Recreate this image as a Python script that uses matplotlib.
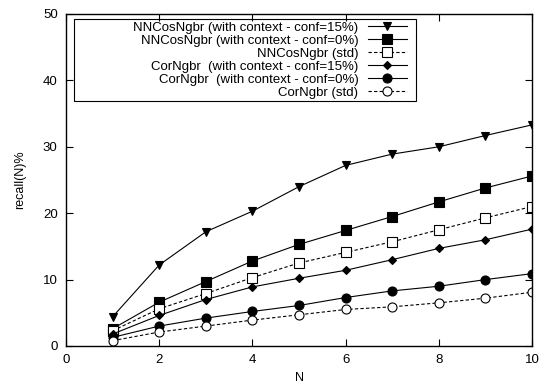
import matplotlib
matplotlib.use("Agg")
from matplotlib import pyplot
from matplotlib.patches import Rectangle

pyplot.rcParams['font.family'] = ['Liberation Sans', 'DejaVu Sans']

n_values = [1, 2, 3, 4, 5, 6, 7, 8, 9, 10]

nncos_conf15 = [4.4, 12.2, 17.2, 20.3, 24.0, 27.2, 28.9, 30.0, 31.7, 33.3]
nncos_conf0 = [2.6, 6.6, 9.7, 12.8, 15.3, 17.4, 19.5, 21.7, 23.8, 25.6]
nncos_std = [2.3, 5.6, 7.9, 10.3, 12.5, 14.1, 15.7, 17.5, 19.3, 21.0]
cor_conf15 = [1.8, 4.6, 7.0, 8.9, 10.2, 11.4, 13.0, 14.7, 16.0, 17.6]
cor_conf0 = [1.3, 3.0, 4.2, 5.2, 6.1, 7.3, 8.3, 9.0, 10.0, 10.9]
cor_std = [0.8, 2.1, 3.0, 3.9, 4.7, 5.5, 5.9, 6.5, 7.2, 8.1]

labels = [
    "NNCosNgbr (with context - conf=15%)",
    "NNCosNgbr (with context - conf=0%)",
    "NNCosNgbr (std)",
    "CorNgbr  (with context - conf=15%)",
    "CorNgbr  (with context - conf=0%)",
    "CorNgbr (std)",
]
x_ticks = [0, 2, 4, 6, 8, 10]
y_ticks = [0, 10, 20, 30, 40, 50]

series = [
    (nncos_conf15, "v", "k", "-", 6),
    (nncos_conf0, "s", "k", "-", 7),
    (nncos_std, "s", "w", "--", 7),
    (cor_conf15, "D", "k", "-", 4.5),
    (cor_conf0, "o", "k", "-", 6.5),
    (cor_std, "o", "w", "--", 6.5),
]

fig = pyplot.figure(figsize=(5.46, 3.84), dpi=100)
ax = fig.add_axes([66 / 546, 1 - 346 / 384, (532 - 66) / 546, (346 - 14) / 384])

for (values, marker, face, style, size), label in zip(series, labels):
    ax.plot(n_values, values, color="k", linestyle=style, linewidth=0.8,
            dashes=(3, 2) if style == "--" else (None, None),
            marker=marker, markerfacecolor=face, markeredgecolor="k",
            markeredgewidth=0.8, markersize=size, label=label)

ax.set_xlim(0, 10)
ax.set_ylim(0, 50)
ax.set_xticks(x_ticks)
ax.set_yticks(y_ticks)
ax.tick_params(direction="in", top=True, right=True, length=5, width=0.8,
               labelsize=9.5, pad=6)
for spine in ax.spines.values():
    spine.set_linewidth(1.0)
ax.set_xlabel("N", fontsize=9, labelpad=4)
ax.set_ylabel("recall(N)%", fontsize=9, labelpad=12)

# gnuplot-like key: right aligned labels, samples on the right, wide box
leg = ax.legend(loc="upper right", bbox_to_anchor=(0.738, 0.985), markerfirst=False,
                fontsize=9.5, handlelength=3.0, handletextpad=0.7,
                labelspacing=0.06, borderpad=0.2, borderaxespad=0,
                frameon=False)
ax.add_patch(Rectangle((0.017, 0.739), 0.734, 0.246, transform=ax.transAxes,
                       facecolor="none", edgecolor="k", linewidth=0.8, zorder=5))

pyplot.savefig("out.png", dpi=100)
